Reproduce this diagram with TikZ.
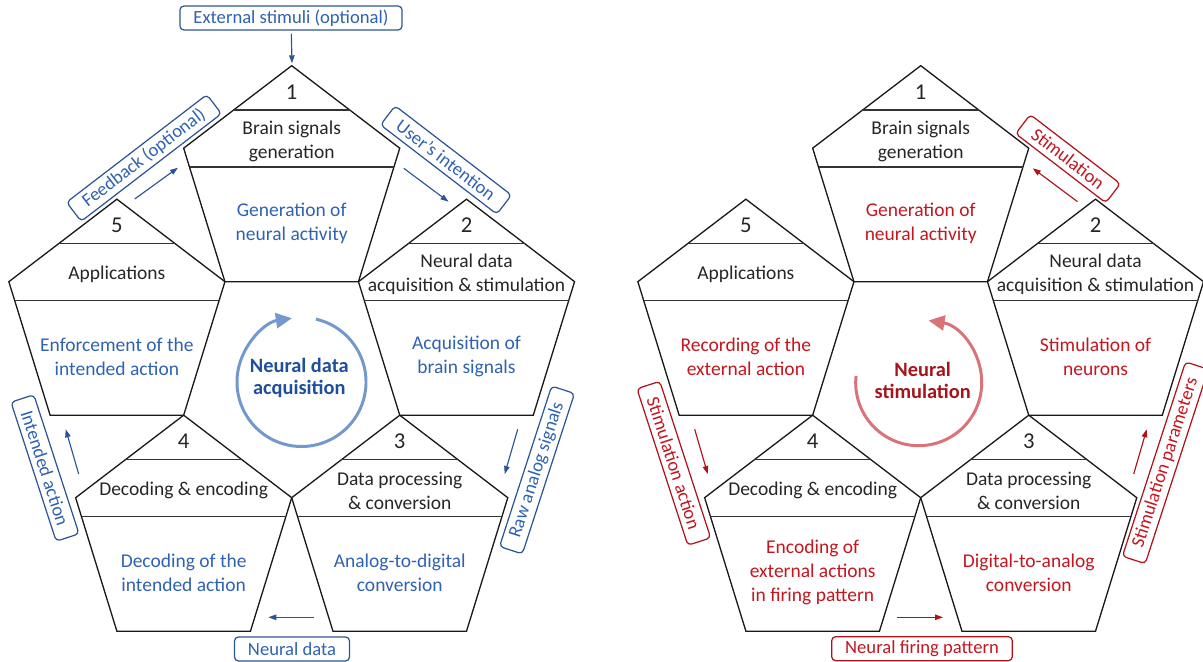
\documentclass[tikz,border=0pt]{standalone}
\usepackage{fontspec}
\setmainfont{Carlito}
\usetikzlibrary{calc,arrows.meta}
\definecolor{gristexte}{HTML}{262626}
\definecolor{bleu}{HTML}{2F62B0}
\definecolor{bleufonce}{HTML}{1F4E9B}
\definecolor{bleuclair}{HTML}{7398CD}
\definecolor{bleutrait}{HTML}{2B5597}
\definecolor{rouge}{HTML}{C3161F}
\definecolor{rougefonce}{HTML}{A6141B}
\definecolor{rougeclair}{HTML}{DA7379}
\definecolor{rougetrait}{HTML}{B0121A}

\begin{document}
\begin{tikzpicture}[x=0.02cm,y=0.02cm]
\tikzset{pent/.style={draw=black!90, line width=0.75pt},
sep/.style={draw=black!80, line width=0.9pt},
bloc/.pic={
\draw[pent] (90:113.6 and 119.4) -- (18:113.6 and 119.4) -- (-54:113.6 and 119.4) -- (-126:113.6 and 119.4) -- (162:113.6 and 119.4) -- cycle;
\draw[sep] (-58.3,74.9) -- (58.3,74.9);
\draw[sep] (-102.1,17.9) -- (102.1,17.9);
},
num/.style={font=\fontsize{12.9}{15}\selectfont, text=gristexte},
titre/.style={font=\fontsize{11.1}{13.7}\selectfont, text=gristexte, align=center},
desc/.style={font=\fontsize{11.1}{13.7}\selectfont, align=center},
centre/.style={font=\fontsize{11.6}{12.9}\selectfont\bfseries, align=center},
etiq/.style={draw, rounded corners=0.08cm, line width=0.7pt, font=\fontsize{10.6}{12}\selectfont, minimum height=0.48cm, inner xsep=0.27cm, inner ysep=0pt},
fleche/.style={-{Triangle[length=0.16cm,width=0.11cm]}, line width=0.65pt},
boucle/.style={-{Triangle[length=0.32cm,width=0.3cm]}, line width=1.7pt}}
\useasboundingbox (0,0) rectangle (1203,662);
% neural data acquisition
\coordinate (CL) at (291.7,283.7);
\coordinate (L1) at ($(CL)+(90:183.8 and 193.2)$);
\coordinate (L2) at ($(CL)+(18:183.8 and 193.2)$);
\coordinate (L3) at ($(CL)+(-54:183.8 and 193.2)$);
\coordinate (L4) at ($(CL)+(-126:183.8 and 193.2)$);
\coordinate (L5) at ($(CL)+(162:183.8 and 193.2)$);
\pic at (L1) {bloc};
\pic at (L2) {bloc};
\pic at (L3) {bloc};
\pic at (L4) {bloc};
\pic at (L5) {bloc};
\node[num] (nL1) at ($(L1)+(0,93)$) {1};
\node[num] (nL2) at ($(L2)+(0,93)$) {2};
\node[num] (nL3) at ($(L3)+(0,93)$) {3};
\node[num] (nL4) at ($(L4)+(0,93)$) {4};
\node[num] (nL5) at ($(L5)+(0,93)$) {5};
\node[titre] (tL1) at ($(L1)+(0,44)$) {Brain signals\\generation};
\node[titre] (tL2) at ($(L2)+(0,44)$) {Neural data\\acquisition \& stimulation};
\node[titre] (tL3) at ($(L3)+(0,44)$) {Data processing\\\& conversion};
\node[titre] (tL4) at ($(L4)+(0,44)$) {Decoding \& encoding};
\node[titre] (tL5) at ($(L5)+(0,44)$) {Applications};
\node[desc, text=bleu] (dL1) at ($(L1)+(0,-38)$) {Generation of\\neural activity};
\node[desc, text=bleu] (dL2) at ($(L2)+(0,-38)$) {Acquisition of\\brain signals};
\node[desc, text=bleu] (dL3) at ($(L3)+(0,-38)$) {Analog-to-digital\\conversion};
\node[desc, text=bleu] (dL4) at ($(L4)+(0,-38)$) {Decoding of the\\intended action};
\node[desc, text=bleu] (dL5) at ($(L5)+(0,-38)$) {Enforcement of the\\intended action};
\draw[boucle, bleuclair] ($(301.5,280)+(77:64.5)$) arc[start angle=77, end angle=-261.4, radius=64.5];
\node[centre, text=bleufonce] (cL) at (299.3,284) {Neural data\\acquisition};
\node[etiq, draw=bleutrait, text=bleu] (ext) at (291,644) {External stimuli (optional)};
\node[etiq, draw=bleutrait, text=bleu, rotate=37.5] (feed) at (144,504) {Feedback (optional)};
\node[etiq, draw=bleutrait, text=bleu, rotate=-37.5] (inten) at (446,502) {User’s intention};
\node[etiq, draw=bleutrait, text=bleu, rotate=72] (raw) at (537,192) {Raw analog signals};
\node[etiq, draw=bleutrait, text=bleu] (ndata) at (292,13) {Neural data};
\node[etiq, draw=bleutrait, text=bleu, rotate=-72] (iact) at (45,194) {Intended action};
\coordinate (a1) at (292,598.7);
\coordinate (f1) at (134.7,463);
\coordinate (f2) at (178,494.3);
\coordinate (u1) at (403.8,493.7);
\coordinate (u2) at (448.5,460.3);
\coordinate (r1) at (517.7,232.7);
\coordinate (r2) at (504.7,188);
\coordinate (d1) at (314.3,44.7);
\coordinate (d2) at (268.3,44.7);
\coordinate (i1) at (78.7,188);
\coordinate (i2) at (65.7,232.7);
\draw[fleche, bleutrait, shorten <=0.06cm] (ext) -- (a1);
\draw[fleche, bleutrait] (f1) -- (f2);
\draw[fleche, bleutrait] (u1) -- (u2);
\draw[fleche, bleutrait] (r1) -- (r2);
\draw[fleche, bleutrait] (d1) -- (d2);
\draw[fleche, bleutrait] (i1) -- (i2);
% neural stimulation
\coordinate (CR) at (920.7,283.7);
\coordinate (R1) at ($(CR)+(90:183.8 and 193.2)$);
\coordinate (R2) at ($(CR)+(18:183.8 and 193.2)$);
\coordinate (R3) at ($(CR)+(-54:183.8 and 193.2)$);
\coordinate (R4) at ($(CR)+(-126:183.8 and 193.2)$);
\coordinate (R5) at ($(CR)+(162:183.8 and 193.2)$);
\pic at (R1) {bloc};
\pic at (R2) {bloc};
\pic at (R3) {bloc};
\pic at (R4) {bloc};
\pic at (R5) {bloc};
\node[num] (nR1) at ($(R1)+(0,93)$) {1};
\node[num] (nR2) at ($(R2)+(0,93)$) {2};
\node[num] (nR3) at ($(R3)+(0,93)$) {3};
\node[num] (nR4) at ($(R4)+(0,93)$) {4};
\node[num] (nR5) at ($(R5)+(0,93)$) {5};
\node[titre] (tR1) at ($(R1)+(0,44)$) {Brain signals\\generation};
\node[titre] (tR2) at ($(R2)+(0,44)$) {Neural data\\acquisition \& stimulation};
\node[titre] (tR3) at ($(R3)+(0,44)$) {Data processing\\\& conversion};
\node[titre] (tR4) at ($(R4)+(0,44)$) {Decoding \& encoding};
\node[titre] (tR5) at ($(R5)+(0,44)$) {Applications};
\node[desc, text=rouge] (dR1) at ($(R1)+(0,-38)$) {Generation of\\neural activity};
\node[desc, text=rouge] (dR2) at ($(R2)+(0,-38)$) {Stimulation of\\neurons};
\node[desc, text=rouge] (dR3) at ($(R3)+(0,-38)$) {Digital-to-analog\\conversion};
\node[desc, text=rouge] (dR4) at ($(R4)+(0,-38)$) {Encoding of\\external actions\\in firing pattern};
\node[desc, text=rouge] (dR5) at ($(R5)+(0,-38)$) {Recording of the\\external action};
\draw[boucle, rougeclair] ($(918.7,279.3)+(174:63)$) arc[start angle=174, end angle=441, radius=63];
\node[centre, text=rougefonce] (cR) at (922.7,281.5) {Neural\\stimulation};
\node[etiq, draw=rougetrait, text=rouge, rotate=-37.5] (stim) at (1068,503.3) {Stimulation};
\node[etiq, draw=rougetrait, text=rouge, rotate=72] (spar) at (1165.4,199.2) {Stimulation parameters};
\node[etiq, draw=rougetrait, text=rouge] (nfire) at (922,13.3) {Neural firing pattern};
\node[etiq, draw=rougetrait, text=rouge, rotate=-72] (sact) at (673.8,198.7) {Stimulation action};
\coordinate (s1) at (1077.5,460.3);
\coordinate (s2) at (1032.8,493.7);
\coordinate (p1) at (1133.7,188);
\coordinate (p2) at (1146.7,232.7);
\coordinate (n1) at (897,44.7);
\coordinate (n2) at (943,44.7);
\coordinate (c1) at (694.7,232.7);
\coordinate (c2) at (707.7,188);
\draw[fleche, rougetrait] (s1) -- (s2);
\draw[fleche, rougetrait] (p1) -- (p2);
\draw[fleche, rougetrait] (n1) -- (n2);
\draw[fleche, rougetrait] (c1) -- (c2);
\end{tikzpicture}
\end{document}
